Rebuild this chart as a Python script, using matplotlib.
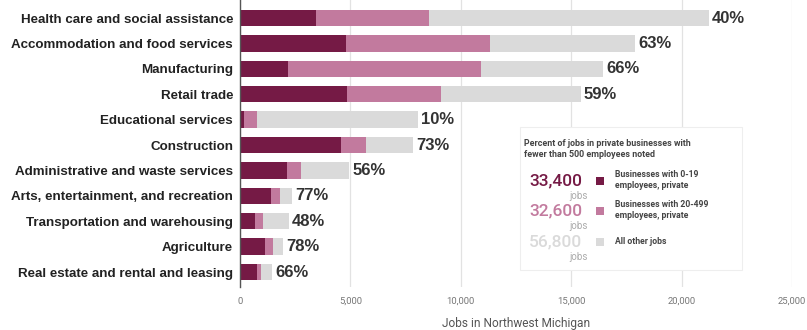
import matplotlib.pyplot as plt
import numpy as np

plt.rcParams['font.family'] = ['Roboto', 'DejaVu Sans']

# jobs by industry, split by business size
industries = ['Health care and social assistance',
              'Accommodation and food services',
              'Manufacturing',
              'Retail trade',
              'Educational services',
              'Construction',
              'Administrative and waste services',
              'Arts, entertainment, and recreation',
              'Transportation and warehousing',
              'Agriculture',
              'Real estate and rental and leasing']
small_biz = [3440, 4780, 2160, 4860, 200, 4560, 2110, 1390, 690, 1150, 780]
mid_biz = [5110, 6520, 8740, 4240, 580, 1140, 650, 420, 370, 360, 160]
other_jobs = [12670, 6570, 5540, 6330, 7290, 2140, 2190, 540, 1140, 420, 490]

# region-wide totals shown in the key
legend_totals = ['33,400', '32,600', '56,800']
legend_labels = ['Businesses with 0-19\nemployees, private',
                 'Businesses with 20-499\nemployees, private',
                 'All other jobs']

c_small = '#751a45'
c_mid = '#c27a9e'
c_other = '#dadada'
colors = [c_small, c_mid, c_other]

small = np.array(small_biz)
mid = np.array(mid_biz)
other = np.array(other_jobs)
total = small + mid + other
pct = np.round((small + mid) / total * 100).astype(int)

fig = plt.figure(figsize=(8.07, 3.30), dpi=100)
ax = fig.add_axes([240 / 807, 43 / 330, 552 / 807, 287 / 330])

y = np.arange(len(industries))
h = 0.64
ax.barh(y, small, height=h, color=c_small, zorder=3)
ax.barh(y, mid, left=small, height=h, color=c_mid, zorder=3)
ax.barh(y, other, left=small + mid, height=h, color=c_other, zorder=3)

for i in range(len(industries)):
    ax.text(total[i] + 150, y[i], '%d%%' % pct[i], va='center', ha='left',
            fontsize=12, fontweight='bold', color='#333333', zorder=4,
            family=['Liberation Sans', 'DejaVu Sans'])

ax.set_xlim(0, 25000)
ax.set_ylim(len(industries) - 1 + 0.59, -0.71)
ax.set_xticks([0, 5000, 10000, 15000, 20000, 25000])
ax.set_xticklabels(['0', '5,000', '10,000', '15,000', '20,000', '25,000'])
ax.set_yticks(y)
ax.set_yticklabels(industries, fontsize=9.6, fontweight='bold', color='#222222',
                   family=['Liberation Sans', 'DejaVu Sans'])
ax.tick_params(axis='x', length=0, pad=7, labelsize=6.8, labelcolor='#777777')
ax.tick_params(axis='y', length=0, pad=5)
ax.grid(axis='x', color='#e2e2e2', linewidth=0.9, zorder=0)
for s in ['top', 'right', 'bottom']:
    ax.spines[s].set_visible(False)
ax.spines['left'].set_color('#555555')
ax.spines['left'].set_linewidth(1.0)
ax.spines['left'].set_zorder(5)
ax.set_xlabel('Jobs in Northwest Michigan', fontsize=8.6, color='#555555',
              labelpad=8)

# key box
px = lambda x: x / 807
py = lambda v: 1 - v / 330
box = plt.Rectangle((px(520), py(270)), px(742) - px(520), py(127) - py(270),
                    transform=fig.transFigure, facecolor='white',
                    edgecolor='#eeeeee', linewidth=0.8, zorder=10)
fig.patches.append(box)
fig.text(px(524), py(149), 'Percent of jobs in private businesses with\nfewer than 500 employees noted',
         fontsize=6.4, fontweight='bold', color='#444444', va='center',
         ha='left', linespacing=1.35, zorder=11)
rows = [181, 211, 242]
for k in range(3):
    fig.text(px(582), py(rows[k]), legend_totals[k], fontsize=12.5,
             fontweight='medium', color=colors[k], ha='right', va='center',
             zorder=11)
    fig.text(px(578), py(rows[k] + 15), 'jobs', fontsize=7, color='#aaaaaa',
             ha='center', va='center', zorder=11)
    sq = plt.Rectangle((px(596), py(rows[k] + 4)), px(8), 8 / 330,
                       transform=fig.transFigure, facecolor=colors[k],
                       edgecolor='none', zorder=11)
    fig.patches.append(sq)
    fig.text(px(615), py(rows[k] - 1), legend_labels[k], fontsize=6.2,
             fontweight='bold', color='#444444', ha='left', va='center',
             linespacing=1.3, zorder=11)

fig.savefig('out.png', dpi=100)
